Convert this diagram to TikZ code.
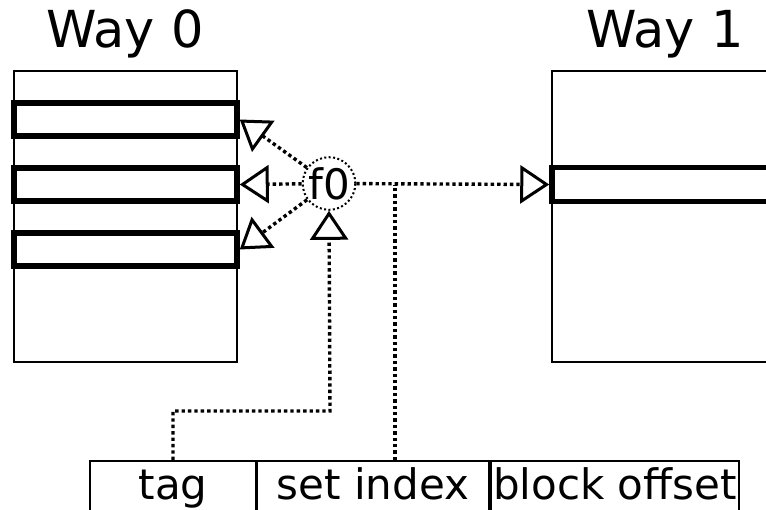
\documentclass[tikz,border=0pt]{standalone}
\usepackage{fontspec}
\setmainfont{DejaVu Sans}
\usetikzlibrary{arrows.meta}
\tikzset{
  waybox/.style={draw, line width=2.2pt, inner sep=0pt, minimum height=291pt},
  rowbox/.style={draw, line width=5.5pt, inner sep=0pt, minimum height=33pt},
  addrbox/.style={draw, line width=1.8pt, inner sep=0pt, minimum height=50pt,
    text height=35pt, text depth=9pt, font=\fontsize{42}{48}\selectfont},
  dotline/.style={line width=3.4pt, dash pattern=on 3.4pt off 3pt},
  tri/.style={-{Triangle[fill=white, length=29pt, width=38pt, line width=3pt]}},
  titletext/.style={anchor=base, inner sep=0pt, font=\fontsize{51}{60}\selectfont},
}
\begin{document}
\begin{tikzpicture}[x=1pt,y=-1pt]
\useasboundingbox (0,0) rectangle (766,509);
\clip (0,0) rectangle (766,509);
\fill[white] (0,0) rectangle (766,509);

% titles
\node[titletext] (t0) at (125,47) {Way 0};
\node[titletext] (t1) at (665,47) {Way 1};

% way boxes
\node[waybox, minimum width=223pt] (w0) at (125.5,216.5) {};
\node[waybox, minimum width=226pt] (w1) at (665,216.5) {};

% rows
\node[rowbox, minimum width=223pt] (r1) at (125.5,119.5) {};
\node[rowbox, minimum width=223pt] (r2) at (125.5,184.5) {};
\node[rowbox, minimum width=223pt] (r3) at (125.5,249.5) {};
\node[rowbox, minimum width=226pt, minimum height=34pt] (r4) at (665,184.5) {};

% comparator
\node[circle, draw, line width=2pt, dash pattern=on 2pt off 2.4pt,
      minimum size=48pt, inner sep=0pt, font=\fontsize{42}{48}\selectfont] (f0) at (329,183.5) {f0};

% address fields
\node[addrbox, minimum width=166pt] (tag) at (173,486) {tag};
\node[addrbox, minimum width=232pt] (si) at (373,486) {set index};
\node[addrbox, minimum width=248pt] (bo) at (615,486) {block offset};

% connectors
\draw[dotline, tri] (f0) -- (r1.east);
\draw[dotline, tri] (f0) -- (r2.east);
\draw[dotline, tri] (f0) -- (r3.east);
\draw[dotline, tri] (f0) -- (r4.west);

\coordinate (jn) at (395,184.5);
\draw[dotline] (si.north -| jn) -- (jn);

\coordinate (tb) at (330,411);
\draw[dotline, tri] (tag.north) |- (tb) -- (f0.south);
\end{tikzpicture}
\end{document}
